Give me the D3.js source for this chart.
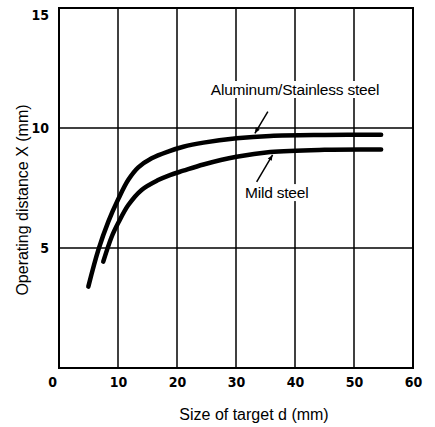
<!DOCTYPE html>
<html>
<head>
<meta charset="utf-8">
<script src="https://cdn.jsdelivr.net/npm/d3@7"></script>
<style>
  body { margin: 0; background: #fff; }
  text { font-family: "Liberation Sans", Arial, sans-serif; fill: #000; }
  .tick text { font-family: "Liberation Sans Narrow", "DejaVu Sans Condensed", sans-serif; font-weight: bold; font-size: 14px; }
</style>
</head>
<body>
<svg width="435" height="427"></svg>
<script>
// values
const alumSize = [4.97, 6.67, 8.36, 10.05, 11.75, 13.44, 15.71, 18.6, 21.07, 24.5, 30.1, 35.8, 45, 54.6]
const alumDist = [3.39, 4.92, 6.1, 7.04, 7.84, 8.36, 8.74, 9.03, 9.22, 9.39, 9.57, 9.67, 9.71, 9.72]
const mildSize = [7.5, 8.93, 10.05, 11.75, 14.0, 16.8, 18.8, 21.07, 24.5, 30.1, 35.8, 45, 54.6]
const mildDist = [4.43, 5.47, 6.05, 6.79, 7.42, 7.83, 8.04, 8.22, 8.48, 8.8, 9.0, 9.09, 9.1]

const xTicks = [0, 10, 20, 30, 40, 50, 60]
const yTicks = [5, 10, 15]

// label text, its anchor and the leader line (data units)
const labels = [
  {text: 'Aluminum/Stainless steel', d: 40, v: 11.375, from: [35.4, 10.68], to: [33.2, 9.78]},
  {text: 'Mild steel', d: 36.9, v: 7.08, from: [33.5, 7.76], to: [36.2, 8.88]}
]

const svg = d3.select('svg')
const x = d3.scaleLinear().domain([0, 60]).range([59, 413])
const y = d3.scaleLinear().domain([0, 15]).range([368, 8])

// grid
svg.append('g').selectAll('line')
  .data(xTicks.slice(1, -1))
  .join('line')
  .attr('x1', d => x(d)).attr('x2', d => x(d))
  .attr('y1', y(15)).attr('y2', y(0))
  .attr('stroke', '#000').attr('stroke-width', 1.5)

svg.append('g').selectAll('line')
  .data(yTicks.slice(0, -1))
  .join('line')
  .attr('x1', x(0)).attr('x2', x(60))
  .attr('y1', d => y(d)).attr('y2', d => y(d))
  .attr('stroke', '#000').attr('stroke-width', 1.5)

svg.append('rect')
  .attr('x', x(0)).attr('y', y(15))
  .attr('width', x(60) - x(0)).attr('height', y(0) - y(15))
  .attr('fill', 'none').attr('stroke', '#000').attr('stroke-width', 2)

// axes (labels only)
const xAxis = svg.append('g')
  .attr('transform', `translate(0,${y(0) + 6})`)
  .call(d3.axisBottom(x).tickValues(xTicks).tickSize(0).tickFormat(d3.format('d')))
xAxis.select('.domain').remove()
xAxis.selectAll('.tick text').filter(d => d == 0).attr('dx', -7)

const yAxis = svg.append('g')
  .attr('transform', `translate(${x(0) - 7},0)`)
  .call(d3.axisLeft(y).tickValues(yTicks).tickSize(0).tickFormat(d3.format('d')))
yAxis.select('.domain').remove()
yAxis.selectAll('.tick text').filter(d => d == 15).attr('y', 7)

// curves
const line = d3.line()
  .x(d => x(d[0]))
  .y(d => y(d[1]))
  .curve(d3.curveCatmullRom.alpha(0.5))

svg.append('path')
  .datum(d3.zip(alumSize, alumDist))
  .attr('d', line)
  .attr('fill', 'none').attr('stroke', '#000').attr('stroke-width', 4.5)
  .attr('stroke-linecap', 'round')

svg.append('path')
  .datum(d3.zip(mildSize, mildDist))
  .attr('d', line)
  .attr('fill', 'none').attr('stroke', '#000').attr('stroke-width', 4.5)
  .attr('stroke-linecap', 'round')

// labels with white background
labels.forEach(function(l) {
  let g = svg.append('g')
  let t = g.append('text')
    .attr('x', x(l.d)).attr('y', y(l.v))
    .attr('text-anchor', 'middle')
    .attr('font-size', 15.5)
    .attr('letter-spacing', -0.2)
    .text(l.text)
  let b = t.node().getBBox()
  g.insert('rect', 'text')
    .attr('x', b.x - 2).attr('y', b.y)
    .attr('width', b.width + 4).attr('height', b.height)
    .attr('fill', '#fff')

  svg.append('line')
    .attr('x1', x(l.from[0])).attr('y1', y(l.from[1]))
    .attr('x2', x(l.to[0])).attr('y2', y(l.to[1]))
    .attr('stroke', '#000').attr('stroke-width', 1.5)

  // small arrow head at the curve end
  let ang = Math.atan2(y(l.to[1]) - y(l.from[1]), x(l.to[0]) - x(l.from[0]))
  let tx = x(l.to[0]), ty = y(l.to[1])
  let s = 6
  svg.append('path')
    .attr('d', d3.line()([
      [tx, ty],
      [tx - s * Math.cos(ang - 0.4), ty - s * Math.sin(ang - 0.4)],
      [tx - s * Math.cos(ang + 0.4), ty - s * Math.sin(ang + 0.4)]
    ]) + 'Z')
    .attr('fill', '#000')
})

// axis titles
svg.append('text')
  .attr('x', 254).attr('y', 420)
  .attr('text-anchor', 'middle')
  .attr('font-size', 16)
  .text('Size of target d (mm)')

svg.append('text')
  .attr('transform', `translate(28,${y(7)}) rotate(-90)`)
  .attr('text-anchor', 'middle')
  .attr('font-size', 16)
  .text('Operating distance X (mm)')
</script>
</body>
</html>
